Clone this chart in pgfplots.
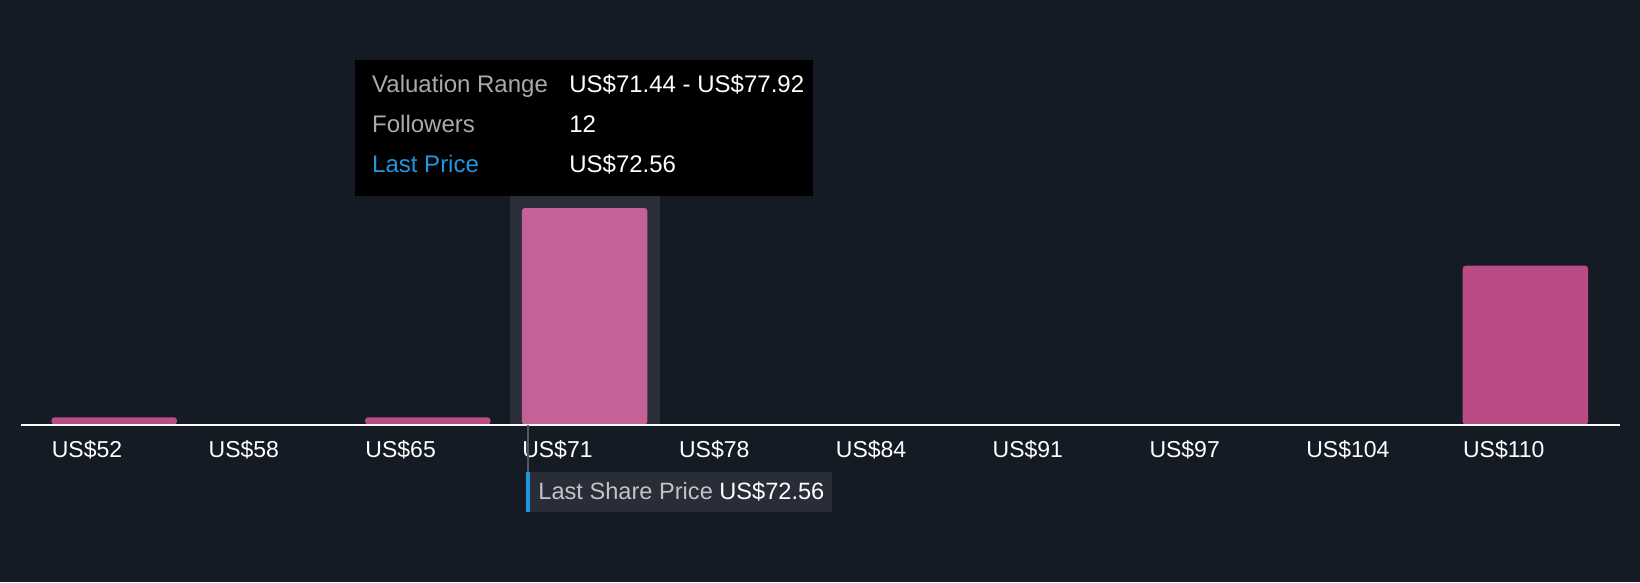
\documentclass[border=0pt]{standalone}
\usepackage{fontspec}
\setmainfont{Liberation Sans}
\usepackage{pgfplots}
\pgfplotsset{compat=1.18}
\definecolor{bg}{RGB}{21,27,37}
\definecolor{hl}{RGB}{42,46,56}
\definecolor{barpink}{RGB}{187,75,133}
\definecolor{barhl}{RGB}{196,98,152}
\definecolor{lbl}{RGB}{170,170,170}
\definecolor{lbl2}{RGB}{195,195,198}
\definecolor{lastblue}{RGB}{33,150,223}
\definecolor{boxfill}{RGB}{40,45,56}
\begin{document}
\begin{tikzpicture}
\begin{axis}[
  width=820pt, height=291pt, scale only axis,
  xmin=-0.3284, xmax=10.1307, ymin=-8.73, ymax=23.53,
  axis x line*=middle, axis y line=none,
  x axis line style={draw=none},
  axis background/.style={fill=bg},
  ytick=\empty,
  xtick={0,...,9},
  xticklabels={US\$52,US\$58,US\$65,US\$71,US\$78,US\$84,US\$91,US\$97,US\$104,US\$110},
  major tick length=0pt,
  xticklabel style={anchor=north west, inner sep=0pt, text=white,
    font=\fontsize{11.5}{13}\selectfont, yshift=-8pt},
]
% hovered bin
\fill[hl] (axis cs:2.921,0) rectangle (axis cs:3.878,12.67);
\addplot[ybar, bar width=0.8, fill=barpink, draw=none, rounded corners=1.5pt]
  coordinates {(0.4,0.4) (2.4,0.4) (9.4,8.8)};
\addplot[ybar, bar width=0.8, fill=barhl, draw=none, rounded corners=1.5pt]
  coordinates {(3.4,12)};
\draw[white, line width=1pt] (axis cs:-0.1945,0) -- (axis cs:10.0,0);

% tooltip
\fill[black] (axis cs:1.936,20.2) rectangle (axis cs:4.857,12.67);
\begin{scope}[every node/.style={anchor=base west, inner sep=0pt, font=\fontsize{12}{14}\selectfont}]
\node[text=lbl] at (axis cs:2.043,18.43) {Valuation Range};
\node[text=white] at (axis cs:3.300,18.43) {US\$71.44 - US\$77.92};
\node[text=lbl] at (axis cs:2.043,16.19) {Followers};
\node[text=white] at (axis cs:3.300,16.19) {12};
\node[text=lastblue] at (axis cs:2.043,13.98) {Last Price};
\node[text=white] at (axis cs:3.300,13.98) {US\$72.56};
\end{scope}

% last share price marker
\draw[hl!80!white, line width=1pt] (axis cs:3.042,0) -- (axis cs:3.042,-2.63);
\fill[boxfill] (axis cs:3.026,-2.63) rectangle (axis cs:4.978,-4.85);
\fill[lastblue] (axis cs:3.026,-2.63) rectangle (axis cs:3.051,-4.85);
\node[anchor=base west, inner sep=0pt, text=lbl2, font=\fontsize{11.8}{13}\selectfont]
  at (axis cs:3.103,-4.14) {Last Share Price};
\node[anchor=base west, inner sep=0pt, text=white, font=\fontsize{11.8}{13}\selectfont]
  at (axis cs:4.257,-4.14) {US\$72.56};
\end{axis}
\end{tikzpicture}
\end{document}
